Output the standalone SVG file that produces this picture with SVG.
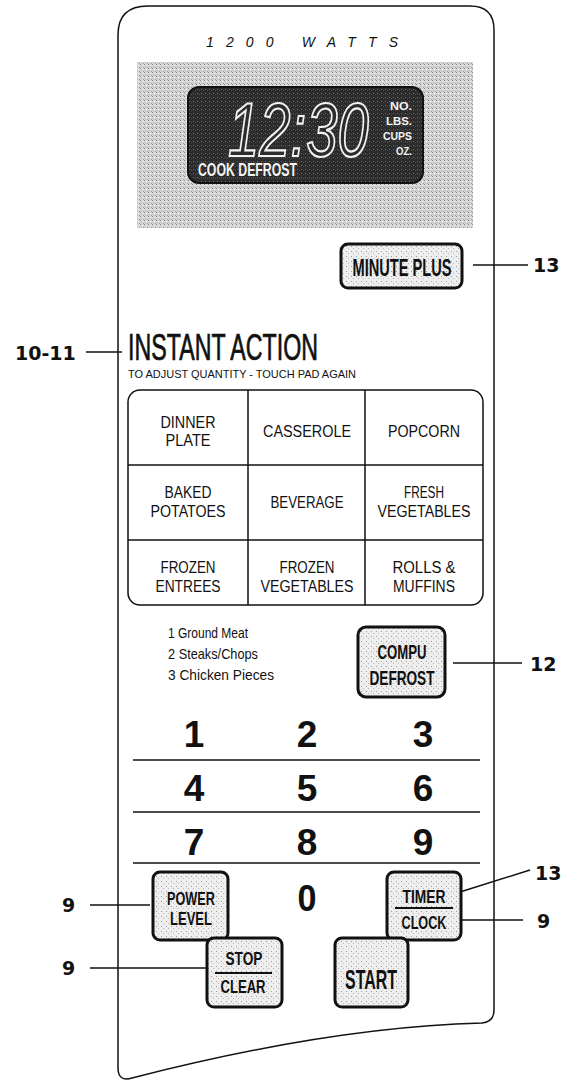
<svg xmlns="http://www.w3.org/2000/svg" width="568" height="1082" viewBox="0 0 568 1082">
<defs>
<pattern id="stipDisp" width="4" height="4" patternUnits="userSpaceOnUse">
<rect width="4" height="4" fill="#d6d6d6"/>
<rect x="0" y="0" width="1" height="1" fill="#8a8a8a"/>
<rect x="2" y="1" width="1" height="1" fill="#f4f4f4"/>
<rect x="3" y="3" width="1" height="1" fill="#9a9a9a"/>
<rect x="1" y="2" width="1" height="1" fill="#bcbcbc"/>
</pattern>
<pattern id="stipLcd" width="4" height="4" patternUnits="userSpaceOnUse">
<rect width="4" height="4" fill="#2c2c2c"/>
<rect x="1" y="1" width="1" height="1" fill="#6a6a6a"/>
<rect x="3" y="2" width="1" height="1" fill="#505050"/>
</pattern>
<pattern id="stipBtn" width="5" height="5" patternUnits="userSpaceOnUse">
<rect width="5" height="5" fill="#eeeeee"/>
<rect x="1" y="1" width="1" height="1" fill="#9c9c9c"/>
<rect x="3" y="3" width="1" height="1" fill="#b8b8b8"/>
</pattern>
<style>
.ln{stroke:#111;stroke-width:1.5;fill:none}
.btn{fill:url(#stipBtn);stroke:#111;stroke-width:3}
.bt{font-family:"Liberation Sans",Arial,sans-serif;font-weight:bold;fill:#111;text-anchor:middle}
.cell{font-family:"Liberation Sans",Arial,sans-serif;font-size:16px;fill:#111;text-anchor:middle}
.num{font-family:"Liberation Sans",Arial,sans-serif;font-weight:bold;font-size:37px;fill:#111;text-anchor:middle}
.call{font-family:"DejaVu Sans","Liberation Sans",sans-serif;font-weight:bold;font-size:19px;fill:#111}
.lst{font-family:"Liberation Sans",Arial,sans-serif;font-size:15px;fill:#111}
.wt{font-family:"Liberation Sans",Arial,sans-serif;font-weight:bold;fill:#f4f4f4}
</style>
</defs>
<rect width="568" height="1082" fill="#ffffff"/>

<g id="panel">
<path class="ln" d="M 118 35 Q 118 6 148 6 L 470 6 Q 494 6 494 30 L 494 1010 Q 494 1022 482 1023 Q 330 1027 132 1078 Q 118 1082 118 1068 Z"/>
<text x="302" y="47" font-family="Liberation Sans, Arial, sans-serif" font-style="italic" font-size="14" fill="#111" text-anchor="middle" textLength="192" lengthAdjust="spacing">1200 WATTS</text>
</g>

<g id="display">
<rect x="137" y="62" width="336" height="166" fill="url(#stipDisp)"/>
<rect x="188" y="87" width="235" height="96" rx="11" fill="url(#stipLcd)" stroke="#111" stroke-width="2"/>
<text transform="translate(228,156) scale(0.74,1)" x="0" y="0" font-family="Liberation Sans, Arial, sans-serif" font-style="italic" font-size="76" fill="#2c2c2c" stroke="#f2f2f2" stroke-width="2.2">12:30</text>
<text class="wt" x="412" y="110" font-size="10.5" text-anchor="end" textLength="22" lengthAdjust="spacingAndGlyphs">NO.</text>
<text class="wt" x="412" y="125" font-size="10.5" text-anchor="end" textLength="26" lengthAdjust="spacingAndGlyphs">LBS.</text>
<text class="wt" x="412" y="140" font-size="10.5" text-anchor="end" textLength="29" lengthAdjust="spacingAndGlyphs">CUPS</text>
<text class="wt" x="412" y="155" font-size="10.5" text-anchor="end" textLength="16" lengthAdjust="spacingAndGlyphs">OZ.</text>
<text class="wt" x="198" y="176" font-size="19" textLength="99" lengthAdjust="spacingAndGlyphs">COOK DEFROST</text>
</g>

<g id="minute-plus">
<rect class="btn" x="341" y="244" width="121" height="44" rx="7"/>
<text class="bt" x="402" y="276" font-size="23" textLength="99" lengthAdjust="spacingAndGlyphs">MINUTE PLUS</text>
</g>

<g id="instant-action">
<text x="128" y="360" font-family="Liberation Sans, Arial, sans-serif" font-size="36" fill="#111" stroke="#111" stroke-width="0.7" textLength="190" lengthAdjust="spacingAndGlyphs">INSTANT ACTION</text>
<text x="128" y="378" font-family="Liberation Sans, Arial, sans-serif" font-size="10.5" fill="#111" textLength="228" lengthAdjust="spacingAndGlyphs">TO ADJUST QUANTITY - TOUCH PAD AGAIN</text>
</g>

<g id="instant-grid">
<rect class="ln" x="128" y="390" width="355" height="215" rx="12"/>
<line class="ln" x1="248" y1="390" x2="248" y2="605"/>
<line class="ln" x1="365" y1="390" x2="365" y2="605"/>
<line class="ln" x1="128" y1="465" x2="483" y2="465"/>
<line class="ln" x1="128" y1="540" x2="483" y2="540"/>
<text class="cell" x="188" y="428" textLength="55" lengthAdjust="spacingAndGlyphs">DINNER</text>
<text class="cell" x="188" y="446" textLength="45" lengthAdjust="spacingAndGlyphs">PLATE</text>
<text class="cell" x="307" y="437" textLength="88" lengthAdjust="spacingAndGlyphs">CASSEROLE</text>
<text class="cell" x="424" y="437" textLength="72" lengthAdjust="spacingAndGlyphs">POPCORN</text>
<text class="cell" x="188" y="498" textLength="47" lengthAdjust="spacingAndGlyphs">BAKED</text>
<text class="cell" x="188" y="517" textLength="75" lengthAdjust="spacingAndGlyphs">POTATOES</text>
<text class="cell" x="307" y="508" textLength="73" lengthAdjust="spacingAndGlyphs">BEVERAGE</text>
<text class="cell" x="424" y="498" textLength="40" lengthAdjust="spacingAndGlyphs">FRESH</text>
<text class="cell" x="424" y="517" textLength="93" lengthAdjust="spacingAndGlyphs">VEGETABLES</text>
<text class="cell" x="188" y="573" textLength="55" lengthAdjust="spacingAndGlyphs">FROZEN</text>
<text class="cell" x="188" y="592" textLength="65" lengthAdjust="spacingAndGlyphs">ENTREES</text>
<text class="cell" x="307" y="573" textLength="55" lengthAdjust="spacingAndGlyphs">FROZEN</text>
<text class="cell" x="307" y="592" textLength="93" lengthAdjust="spacingAndGlyphs">VEGETABLES</text>
<text class="cell" x="424" y="573" textLength="63" lengthAdjust="spacingAndGlyphs">ROLLS &amp;</text>
<text class="cell" x="424" y="592" textLength="62" lengthAdjust="spacingAndGlyphs">MUFFINS</text>
</g>

<g id="defrost-list">
<text class="lst" x="168" y="638" textLength="80" lengthAdjust="spacingAndGlyphs">1  Ground Meat</text>
<text class="lst" x="168" y="659" textLength="90" lengthAdjust="spacingAndGlyphs">2  Steaks/Chops</text>
<text class="lst" x="168" y="680" textLength="106" lengthAdjust="spacingAndGlyphs">3  Chicken Pieces</text>
</g>

<g id="compu-defrost">
<rect class="btn" x="358" y="627" width="87" height="70" rx="8"/>
<text class="bt" x="402" y="659" font-size="20" textLength="49" lengthAdjust="spacingAndGlyphs">COMPU</text>
<text class="bt" x="402" y="685" font-size="20" textLength="65" lengthAdjust="spacingAndGlyphs">DEFROST</text>
</g>

<g id="number-pad">
<text class="num" x="194" y="747">1</text>
<text class="num" x="307" y="747">2</text>
<text class="num" x="423" y="747">3</text>
<line class="ln" x1="133" y1="760" x2="480" y2="760"/>
<text class="num" x="194" y="801">4</text>
<text class="num" x="307" y="801">5</text>
<text class="num" x="423" y="801">6</text>
<line class="ln" x1="133" y1="812" x2="480" y2="812"/>
<text class="num" x="194" y="855">7</text>
<text class="num" x="307" y="855">8</text>
<text class="num" x="423" y="855">9</text>
<line class="ln" x1="133" y1="863" x2="480" y2="863"/>
<text class="num" x="307" y="911" textLength="19" lengthAdjust="spacingAndGlyphs">0</text>
</g>

<g id="power-level">
<rect class="btn" x="153" y="872" width="75" height="68" rx="7"/>
<text class="bt" x="191" y="905" font-size="18" textLength="48" lengthAdjust="spacingAndGlyphs">POWER</text>
<text class="bt" x="191" y="925" font-size="18" textLength="42" lengthAdjust="spacingAndGlyphs">LEVEL</text>
</g>

<g id="stop-clear">
<rect class="btn" x="207" y="938" width="75" height="69" rx="7"/>
<text class="bt" x="244" y="965" font-size="18" textLength="37" lengthAdjust="spacingAndGlyphs">STOP</text>
<line x1="215" y1="973" x2="272" y2="973" stroke="#111" stroke-width="2"/>
<text class="bt" x="243" y="993" font-size="18" textLength="45" lengthAdjust="spacingAndGlyphs">CLEAR</text>
</g>

<g id="timer-clock">
<rect class="btn" x="387" y="872" width="74" height="68" rx="7"/>
<text class="bt" x="424" y="903" font-size="18" textLength="43" lengthAdjust="spacingAndGlyphs">TIMER</text>
<line x1="395" y1="908" x2="453" y2="908" stroke="#111" stroke-width="2"/>
<text class="bt" x="424" y="929" font-size="18" textLength="45" lengthAdjust="spacingAndGlyphs">CLOCK</text>
</g>

<g id="start">
<rect class="btn" x="335" y="938" width="73" height="69" rx="7"/>
<text class="bt" x="371" y="989" font-size="28" textLength="52" lengthAdjust="spacingAndGlyphs">START</text>
</g>

<g id="connectors">
<line class="ln" x1="473" y1="265" x2="528" y2="265"/>
<line class="ln" x1="86" y1="352" x2="122" y2="352"/>
<line class="ln" x1="453" y1="663" x2="522" y2="663"/>
<line class="ln" x1="90" y1="905" x2="150" y2="905"/>
<line class="ln" x1="90" y1="968" x2="207" y2="968"/>
<line class="ln" x1="460" y1="892" x2="530" y2="870"/>
<line class="ln" x1="460" y1="920" x2="523" y2="920"/>
</g>

<g id="callouts">
<text class="call" x="533" y="272">13</text>
<text class="call" x="15" y="360">10-11</text>
<text class="call" x="530" y="671">12</text>
<text class="call" x="62" y="912">9</text>
<text class="call" x="62" y="975">9</text>
<text class="call" x="535" y="880">13</text>
<text class="call" x="537" y="928">9</text>
</g>
</svg>
